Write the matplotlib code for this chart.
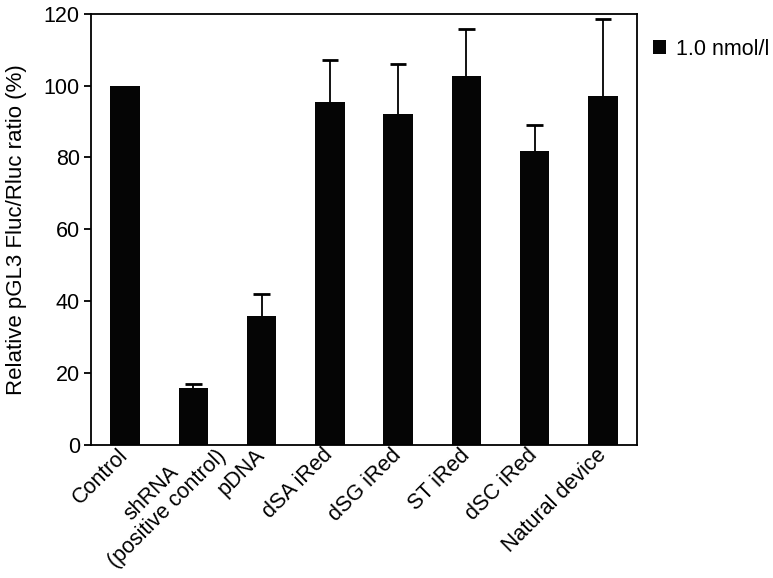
import matplotlib.pyplot as plt
import matplotlib.transforms as mtrans
import numpy as np

plt.rcParams['font.family'] = ['Liberation Sans', 'DejaVu Sans']

# values
groups = ["Control", "shRNA\n(positive control)", "pDNA", "dSA iRed",
          "dSG iRed", "ST iRed", "dSC iRed", "Natural device"]
ratio = [100.0, 15.9, 35.9, 95.4, 92.0, 102.8, 81.8, 97.1]
err_up = [0.0, 1.2, 6.1, 11.7, 14.1, 12.9, 7.2, 21.4]

fig = plt.figure(figsize=(7.73, 5.78), dpi=100)
ax = fig.add_axes([0.1177, 0.230, 0.7064, 0.7463])

x = np.arange(len(groups))
ax.bar(x, ratio, width=0.43, color="#050505", label="1.0 nmol/l", zorder=2)

# upper error bars only (no cap at bar top, none for Control)
has_err = [i for i, e in enumerate(err_up) if e > 0]
xe = x[has_err]
y0 = np.array(ratio)[has_err]
y1 = y0 + np.array(err_up)[has_err]
ax.vlines(xe, y0, y1, color="black", linewidth=1.3, zorder=1)
ax.hlines(y1, xe - 0.12, xe + 0.12, color="black", linewidth=2.0, zorder=1)

ax.set_xlim(-0.5, len(groups) - 0.5)
ax.set_ylim(0, 120)
ax.set_yticks(range(0, 121, 20))
ax.set_xticks(x)
ax.set_xticklabels(groups, rotation=45, ha="right", va="center",
                   rotation_mode="anchor", multialignment="center",
                   linespacing=1.05, fontsize=15.5)
ax.tick_params(axis="x", length=0, pad=5)
ax.tick_params(axis="y", length=5, width=1.3, labelsize=15.5, pad=3)
for s in ax.spines.values():
    s.set_linewidth(1.3)
ax.set_ylabel("Relative pGL3 Fluc/Rluc ratio (%)", fontsize=16, labelpad=12)

# the two-line label sits further right in the reference
lab = ax.get_xticklabels()[1]
lab.set_transform(lab.get_transform() +
                  mtrans.ScaledTranslation(0.215, 0.07, fig.dpi_scale_trans))

ax.legend(loc="upper left", bbox_to_anchor=(1.005, 0.972), frameon=False,
          fontsize=15.5, handlelength=0.6, handleheight=0.6, handletextpad=0.5,
          borderaxespad=0.2)

fig.savefig("out.png", dpi=100)
